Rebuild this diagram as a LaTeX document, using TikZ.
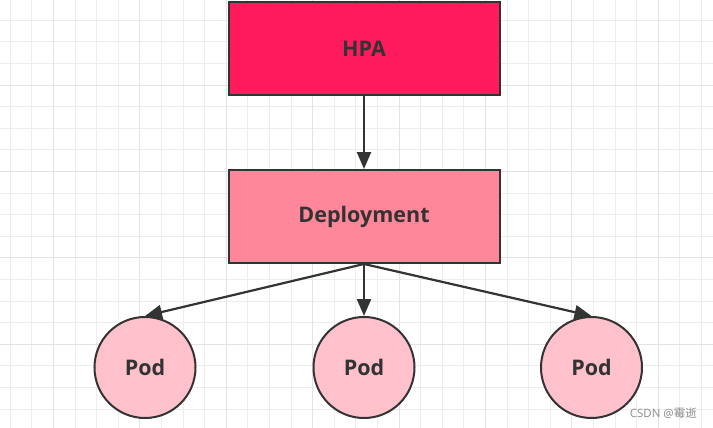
\documentclass[tikz,border=0pt]{standalone}
\usepackage{fontspec}
\setmainfont{Open Sans}
\newfontfamily\cjkfont{Noto Sans CJK SC}
\usetikzlibrary{arrows.meta}
\definecolor{hpacol}{HTML}{FF1A5E}
\definecolor{depcol}{HTML}{FF8799}
\definecolor{podcol}{HTML}{FFC2CC}
\definecolor{inkcol}{HTML}{333333}
\definecolor{gridminor}{HTML}{EDEDED}
\definecolor{gridmajor}{HTML}{E3E3E3}
\tikzset{
  boxnode/.style={draw=inkcol, line width=2pt, minimum width=271pt, minimum height=93pt,
    inner sep=0pt, font=\fontsize{21.5}{24}\bfseries\selectfont, text=inkcol},
  podnode/.style={circle, draw=inkcol, line width=2pt, fill=podcol, minimum size=101pt,
    inner sep=0pt, font=\fontsize{21.5}{24}\bfseries\selectfont, text=inkcol},
  conn/.style={draw=inkcol, line width=2.2pt, -{Triangle[length=17pt,width=14pt]}},
  gminor/.style={draw=gridminor, line width=1pt},
  gmajor/.style={draw=gridmajor, line width=1pt}
}
\begin{document}
\begin{tikzpicture}[x=1pt,y=-1pt]
\useasboundingbox (0,0) rectangle (713,428);
\fill[white] (0,0) rectangle (713,428);
\foreach \i in {0,...,32} {
  \pgfmathsetmacro\xx{10.3+21.6*\i}
  \draw[gminor] (\xx,0) -- (\xx,428);
}
\foreach \i in {0,...,20} {
  \pgfmathsetmacro\yy{-1.3+21.6*\i}
  \draw[gminor] (0,\yy) -- (713,\yy);
}
\foreach \i in {0,...,7} {
  \pgfmathsetmacro\xx{53.5+86.4*\i}
  \draw[gmajor] (\xx,0) -- (\xx,428);
}
\foreach \i in {1,...,4} {
  \pgfmathsetmacro\yy{-1.3+86.4*\i}
  \draw[gmajor] (0,\yy) -- (713,\yy);
}
\node[boxnode, fill=hpacol] (hpa) at (364,49) {HPA};
\node[boxnode, fill=depcol] (dep) at (364,216.5) {Deployment};
\node[podnode] (pod1) at (145,367.5) {Pod};
\node[podnode] (pod2) at (364,367.5) {Pod};
\node[podnode] (pod3) at (591.5,367.5) {Pod};
\draw[conn] (hpa.south) -- (dep.north);
\draw[conn] (dep.south) -- (pod1.north);
\draw[conn] (dep.south) -- (pod2.north);
\draw[conn] (dep.south) -- (pod3.north);
\node[anchor=base east, text=black!45, font=\fontsize{11.5}{13}\selectfont, inner sep=0pt] (wm) at (697,417) {CSDN @{\cjkfont 霉逝}};
\end{tikzpicture}
\end{document}
